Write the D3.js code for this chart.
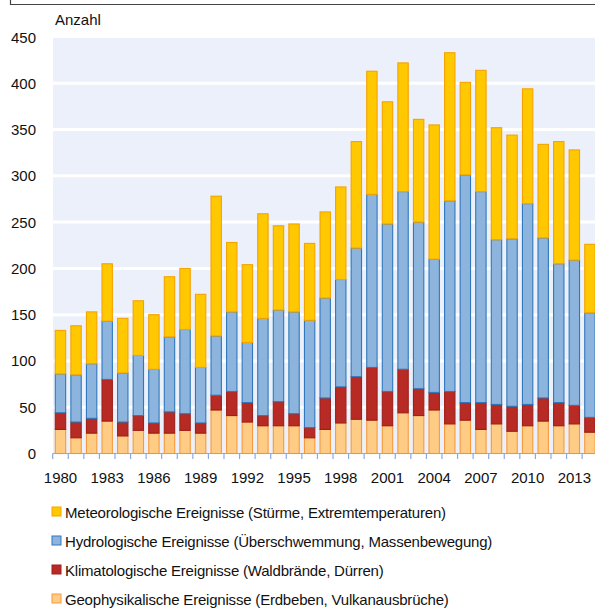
<!DOCTYPE html>
<html><head><meta charset="utf-8">
<script src="https://cdnjs.cloudflare.com/ajax/libs/d3/7.8.5/d3.min.js"></script>
<style>body{margin:0;background:#fff}svg{display:block}text{font-family:"Liberation Sans",Arial,sans-serif;fill:#111}</style>
</head><body><svg id="c" width="595" height="608"></svg>
<script>
const years = d3.range(1980, 2015);
const geophysical = [26,17,22,35,19,25,22,22,25,22,47,41,34,30,30,30,17,26,33,37,36,30,44,41,47,32,36,26,32,24,30,35,30,32,23];
const climatological = [18,17,16,45,15,16,11,23,18,11,16,26,21,11,26,13,11,34,39,46,57,37,47,29,19,35,19,29,21,27,23,25,25,20,16];
const hydrological = [42,51,59,63,53,65,58,81,91,60,64,86,65,105,99,110,116,108,116,139,187,181,192,180,144,206,246,228,178,181,217,173,150,157,113];
const meteorological = [47,53,56,62,59,59,59,65,66,79,151,75,84,113,91,95,83,93,100,115,133,132,139,111,145,160,100,131,121,112,124,101,132,119,74];
const seriesNames = ["Meteorologische Ereignisse (Stürme, Extremtemperaturen)","Hydrologische Ereignisse (Überschwemmung, Massenbewegung)","Klimatologische Ereignisse (Waldbrände, Dürren)","Geophysikalische Ereignisse (Erdbeben, Vulkanausbrüche)"];
const yTicks = [0,50,100,150,200,250,300,350,400,450];
const xTickYears = [1980,1983,1986,1989,1992,1995,1998,2001,2004,2007,2010,2013];

const styles = {
  geo:{fill:"#FFCC85",stroke:"#F79A3C"},
  clim:{fill:"#B82A24",stroke:"#9E1F1A"},
  hydro:{fill:"#8DB4DC",stroke:"#2F78BE"},
  met:{fill:"#FFC800",stroke:"#F5A300"}
};
const keys = ["geo","clim","hydro","met"];
const rows = years.map((y,i)=>({year:y,geo:geophysical[i],clim:climatological[i],hydro:hydrological[i],met:meteorological[i]}));
const stack = d3.stack().keys(keys)(rows);

const svg = d3.select("#c");
svg.append("path").attr("d","M10.5,0 V4.5 H595").attr("fill","none").attr("stroke","#444").attr("stroke-width",1.2);

const x = d3.scaleBand().domain(years).range([52.7,597.7]).paddingInner(0.27).paddingOuter(0.135);
const y = d3.scaleLinear().domain([0,450]).range([453.5,37]);

svg.append("rect").attr("x",53).attr("y",38).attr("width",595-53).attr("height",453.5-38).attr("fill","#EBF0FA");
svg.append("g").selectAll("line").data(yTicks.filter(d=>d>0&&d<450)).join("line")
  .attr("x1",53).attr("x2",595).attr("y1",d=>y(d)).attr("y2",d=>y(d)).attr("stroke","#fff").attr("stroke-width",3);

svg.append("g").selectAll("g").data(stack).join("g")
  .each(function(s){
    const st = styles[s.key];
    d3.select(this).selectAll("rect").data(s).join("rect")
      .attr("x",d=>x(d.data.year)+0.5).attr("width",x.bandwidth()-1)
      .attr("y",d=>y(d[1])).attr("height",d=>y(d[0])-y(d[1]))
      .attr("fill",st.fill).attr("stroke",st.stroke).attr("stroke-width",1.1);
  });

svg.append("g").selectAll("text").data(yTicks).join("text")
  .attr("x",36).attr("y",d=>y(d)+5.5).attr("text-anchor","end").attr("font-size",15).text(d=>d);
svg.append("text").attr("x",55).attr("y",25).attr("font-size",15).text("Anzahl");

const step = x.step();
const xa = svg.append("g");
xa.append("line").attr("x1",52.7).attr("x2",595).attr("y1",453.5).attr("y2",453.5).attr("stroke","#8EA9DB").attr("stroke-width",1.2);
xa.selectAll("line.t").data(d3.range(0,36)).join("line").attr("class","t")
  .attr("x1",i=>52.7+i*step).attr("x2",i=>52.7+i*step).attr("y1",453.5).attr("y2",459).attr("stroke","#8EA9DB").attr("stroke-width",1.2);
xa.selectAll("text").data(xTickYears).join("text")
  .attr("x",d=>x(d)+x.bandwidth()/2).attr("y",483).attr("text-anchor","middle").attr("font-size",15).text(d=>d);

const legKeys = ["met","hydro","clim","geo"];
const lg = svg.append("g");
seriesNames.forEach((n,i)=>{
  const yy = 512 + i*29;
  lg.append("rect").attr("x",52).attr("y",yy-5).attr("width",9).attr("height",9)
    .attr("fill",styles[legKeys[i]].fill).attr("stroke",styles[legKeys[i]].stroke).attr("stroke-width",1);
  lg.append("text").attr("x",65).attr("y",yy+5.5).attr("font-size",15).attr("letter-spacing","-0.2px").text(n);
});
</script></body></html>
